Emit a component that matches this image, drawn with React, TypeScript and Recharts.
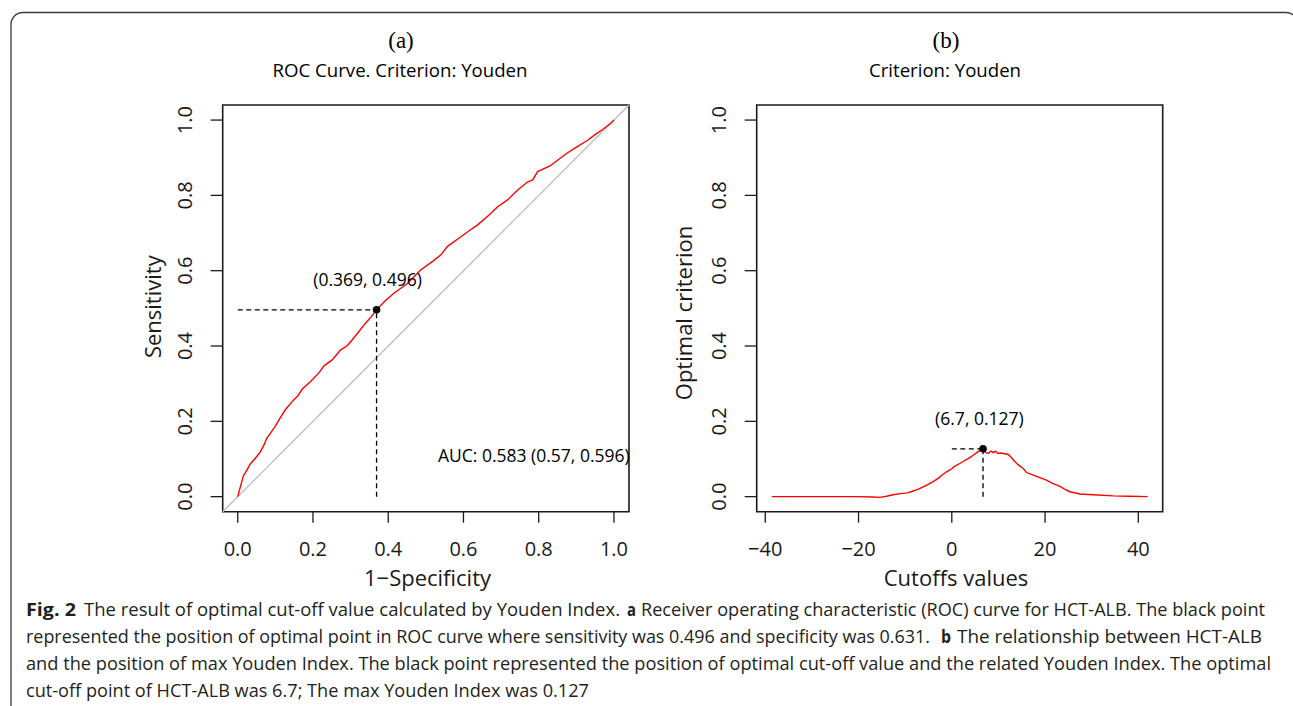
import React from "react";
import {
  LineChart,
  Line,
  XAxis,
  YAxis,
  ReferenceLine,
  ReferenceDot,
  ReferenceArea,
} from "recharts";

const FONT = '"Open Sans", "Noto Sans", sans-serif';
const INK = "#1a1a1a";

// (a) ROC curve: 1-specificity vs sensitivity
const rocFpr = [
  0, 0.008, 0.015, 0.025, 0.033, 0.045, 0.06, 0.07, 0.077, 0.088, 0.099, 0.112,
  0.126, 0.145, 0.16, 0.171, 0.193, 0.215, 0.23, 0.251, 0.273, 0.29, 0.304,
  0.32, 0.339, 0.355, 0.369, 0.39, 0.415, 0.451, 0.486, 0.52, 0.54, 0.557,
  0.593, 0.615, 0.637, 0.668, 0.691, 0.717, 0.745, 0.771, 0.784, 0.797, 0.83,
  0.851, 0.875, 0.895, 0.931, 0.948, 0.97, 0.993, 1,
];
const rocTpr = [
  0, 0.03, 0.055, 0.072, 0.086, 0.1, 0.119, 0.138, 0.155, 0.17, 0.186, 0.208,
  0.23, 0.253, 0.268, 0.285, 0.305, 0.328, 0.348, 0.363, 0.389, 0.4, 0.416,
  0.436, 0.46, 0.478, 0.496, 0.518, 0.54, 0.566, 0.602, 0.626, 0.642, 0.664,
  0.69, 0.706, 0.721, 0.748, 0.77, 0.788, 0.815, 0.836, 0.841, 0.863, 0.878,
  0.894, 0.912, 0.925, 0.947, 0.96, 0.975, 0.993, 1,
];
const rocTicks = [0, 0.2, 0.4, 0.6, 0.8, 1];
const bestRoc = { fpr: 0.369, tpr: 0.496 };
const aucPos = { fpr: 0.787, tpr: 0.111 };
const aucLabel = "AUC: 0.583 (0.57, 0.596)";

// (b) Youden index along the cutoffs
const cutoffs = [
  -38.6, -30, -25, -20.4, -17, -15.4, -14, -12.6, -11, -9.5, -8.3, -7.5, -6.8,
  -5.5, -4, -3, -2, -1.1, 0, 0.5, 1.7, 2.5, 3.5, 4.6, 5.5, 6, 6.7, 7.3, 7.8,
  8.4, 8.9, 9.4, 9.8, 10.5, 11.3, 12.1, 12.8, 13.2, 14.2, 15.3, 16, 17.5, 19,
  20.3, 21.5, 23.2, 24.3, 25.3, 27.5, 30.3, 34.6, 38, 42,
];
const youden = [
  0, 0, 0, 0, -0.001, -0.002, 0.001, 0.005, 0.008, 0.01, 0.015, 0.018, 0.022,
  0.03, 0.04, 0.048, 0.058, 0.066, 0.074, 0.08, 0.088, 0.094, 0.101, 0.11,
  0.118, 0.122, 0.127, 0.117, 0.115, 0.121, 0.117, 0.121, 0.115, 0.116, 0.114,
  0.112, 0.104, 0.097, 0.085, 0.075, 0.064, 0.057, 0.05, 0.044, 0.036, 0.027,
  0.019, 0.013, 0.007, 0.005, 0.002, 0.001, 0,
];
const cutoffTicks = [-40, -20, 0, 20, 40];
const critTicks = [0, 0.2, 0.4, 0.6, 0.8, 1];
const bestCut = { cut: 6.7, j: 0.127 };

const rocData = rocFpr.map((x, i) => ({ x, y: rocTpr[i] }));
const youdenData = cutoffs.map((x, i) => ({ x, y: youden[i] }));

const CHART_H = 600;
const BOX_TOP = 105;
const BOX_BOTTOM = 511.7;
const TICK_LABEL_Y = 548;

const fmt1 = (v: number) => v.toFixed(1);
const fmtInt = (v: number) => (v < 0 ? "\u2212" + Math.abs(v) : String(v));

function xTick(format: (v: number) => string) {
  return (p: any) => (
    <text
      x={p.x}
      y={TICK_LABEL_Y}
      textAnchor="middle"
      dominantBaseline="central"
      fontFamily={FONT}
      fontSize={20}
      fill={INK}
    >
      {format(p.payload.value)}
    </text>
  );
}

function yTick(labelX: number) {
  return (p: any) => (
    <text
      x={labelX}
      y={p.y}
      transform={`rotate(-90 ${labelX} ${p.y})`}
      textAnchor="middle"
      dominantBaseline="central"
      fontFamily={FONT}
      fontSize={20}
      fill={INK}
    >
      {fmt1(p.payload.value)}
    </text>
  );
}

function pointLabel(text: string, dx: number, dy: number) {
  return (p: any) => {
    const vb = p.viewBox || {};
    const cx = vb.x + (vb.width || 0) / 2;
    const cy = vb.y + (vb.height || 0) / 2;
    return (
      <text
        x={cx + dx}
        y={cy + dy}
        textAnchor="middle"
        dominantBaseline="central"
        fontFamily={FONT}
        fontSize={17.5}
        fill="#000"
      >
        {text}
      </text>
    );
  };
}

const dash = "5 3.5";

function RocPanel() {
  const W = 660;
  const boxLeft = 222.7;
  const boxRight = 629;
  const dom: [number, number] = [-0.04, 1.04];
  return (
    <LineChart
      width={W}
      height={CHART_H}
      margin={{ top: BOX_TOP, right: W - boxRight, bottom: CHART_H - BOX_BOTTOM - 60, left: boxLeft - 60 }}
    >
      <XAxis
        type="number"
        dataKey="x"
        domain={dom}
        ticks={rocTicks}
        allowDataOverflow
        interval={0}
        height={60}
        axisLine={false}
        tickSize={11}
        tickLine={{ stroke: INK, strokeWidth: 1.3 }}
        tick={xTick(fmt1)}
      />
      <YAxis
        type="number"
        domain={dom}
        ticks={rocTicks}
        allowDataOverflow
        interval={0}
        width={60}
        axisLine={false}
        tickSize={12}
        tickLine={{ stroke: INK, strokeWidth: 1.3 }}
        tick={yTick(boxLeft - 37.7)}
      />
      <ReferenceLine
        segment={[{ x: dom[0], y: dom[0] }, { x: dom[1], y: dom[1] }]}
        stroke="#bebebe"
        strokeWidth={1.4}
        ifOverflow="visible"
      />
      <Line
        data={rocData}
        dataKey="y"
        type="linear"
        stroke="#ff0000"
        strokeWidth={1.4}
        dot={false}
        isAnimationActive={false}
      />
      <ReferenceLine
        segment={[{ x: 0, y: bestRoc.tpr }, { x: bestRoc.fpr, y: bestRoc.tpr }]}
        stroke="#000"
        strokeWidth={1.3}
        strokeDasharray={dash}
        ifOverflow="visible"
      />
      <ReferenceLine
        segment={[{ x: bestRoc.fpr, y: 0 }, { x: bestRoc.fpr, y: bestRoc.tpr }]}
        stroke="#000"
        strokeWidth={1.3}
        strokeDasharray={dash}
        ifOverflow="visible"
      />
      <ReferenceDot
        x={bestRoc.fpr}
        y={bestRoc.tpr}
        r={3.8}
        fill="#000"
        stroke="none"
        ifOverflow="visible"
        label={{ content: pointLabel("(0.369, 0.496)", -9, -31) }}
      />
      <ReferenceDot
        x={aucPos.fpr}
        y={aucPos.tpr}
        r={0.01}
        fill="none"
        stroke="none"
        ifOverflow="visible"
        label={{ content: pointLabel(aucLabel, 0, 0) }}
      />
      <ReferenceArea
        x1={dom[0]}
        x2={dom[1]}
        y1={dom[0]}
        y2={dom[1]}
        fill="none"
        stroke={INK}
        strokeWidth={1.6}
        ifOverflow="visible"
      />
    </LineChart>
  );
}

function YoudenPanel() {
  const W = 633;
  const boxLeft = 96.7;
  const boxRight = 502.7;
  const xDom: [number, number] = [-41.84, 45.23];
  const yDom: [number, number] = [-0.04, 1.04];
  return (
    <LineChart
      width={W}
      height={CHART_H}
      margin={{ top: BOX_TOP, right: W - boxRight, bottom: CHART_H - BOX_BOTTOM - 60, left: boxLeft - 60 }}
    >
      <XAxis
        type="number"
        dataKey="x"
        domain={xDom}
        ticks={cutoffTicks}
        allowDataOverflow
        interval={0}
        height={60}
        axisLine={false}
        tickSize={11}
        tickLine={{ stroke: INK, strokeWidth: 1.3 }}
        tick={xTick(fmtInt)}
      />
      <YAxis
        type="number"
        domain={yDom}
        ticks={critTicks}
        allowDataOverflow
        interval={0}
        width={60}
        axisLine={false}
        tickSize={12}
        tickLine={{ stroke: INK, strokeWidth: 1.3 }}
        tick={yTick(boxLeft - 38.4)}
      />
      <Line
        data={youdenData}
        dataKey="y"
        type="linear"
        stroke="#ff0000"
        strokeWidth={1.4}
        dot={false}
        isAnimationActive={false}
      />
      <ReferenceLine
        segment={[{ x: 0, y: bestCut.j }, { x: bestCut.cut, y: bestCut.j }]}
        stroke="#000"
        strokeWidth={1.3}
        strokeDasharray={dash}
        ifOverflow="visible"
      />
      <ReferenceLine
        segment={[{ x: bestCut.cut, y: 0 }, { x: bestCut.cut, y: bestCut.j }]}
        stroke="#000"
        strokeWidth={1.3}
        strokeDasharray={dash}
        ifOverflow="visible"
      />
      <ReferenceDot
        x={bestCut.cut}
        y={bestCut.j}
        r={3.8}
        fill="#000"
        stroke="none"
        ifOverflow="visible"
        label={{ content: pointLabel("(6.7, 0.127)", -3.6, -31) }}
      />
      <ReferenceArea
        x1={xDom[0]}
        x2={xDom[1]}
        y1={yDom[0]}
        y2={yDom[1]}
        fill="none"
        stroke={INK}
        strokeWidth={1.6}
        ifOverflow="visible"
      />
    </LineChart>
  );
}

const captionColor = "#231f20";

// one caption run: [x start, width, bold, text]
type Run = [number, number, boolean, string];
const captionLines: { y: number; runs: Run[] }[] = [
  {
    y: 616,
    runs: [
      [26, 50, true, "Fig. 2"],
      [84, 536, false, "The result of optimal cut-off value calculated by Youden Index."],
      [627, 9, true, "a"],
      [641, 624, false, "Receiver operating characteristic (ROC) curve for HCT-ALB. The black point"],
    ],
  },
  {
    y: 643,
    runs: [
      [26, 904, false, "represented the position of optimal point in ROC curve where sensitivity was 0.496 and specificity was 0.631."],
      [941, 10, true, "b"],
      [957, 305, false, "The relationship between HCT-ALB"],
    ],
  },
  {
    y: 670,
    runs: [
      [26, 1245, false, "and the position of max Youden Index. The black point represented the position of optimal cut-off value and the related Youden Index. The optimal"],
    ],
  },
  {
    y: 697,
    runs: [[26, 563, false, "cut-off point of HCT-ALB was 6.7; The max Youden Index was 0.127"]],
  },
];

function Frame() {
  return (
    <svg width={1293} height={706} style={{ position: "absolute", left: 0, top: 0 }}>
      <rect x={11} y={12.5} width={1287} height={760} rx={12} fill="none" stroke="#3a3a3a" strokeWidth={1.3} />

      <text x={401} y={40} textAnchor="middle" dominantBaseline="central" fontFamily='"Liberation Serif", serif' fontSize={23} fill="#000">(a)</text>
      <text x={400} y={70} textAnchor="middle" dominantBaseline="central" fontFamily={FONT} fontSize={19} textLength={255} lengthAdjust="spacingAndGlyphs" fill="#000">ROC Curve. Criterion: Youden</text>
      <text x={946} y={40} textAnchor="middle" dominantBaseline="central" fontFamily='"Liberation Serif", serif' fontSize={23} fill="#000">(b)</text>
      <text x={945} y={70} textAnchor="middle" dominantBaseline="central" fontFamily={FONT} fontSize={19} textLength={152} lengthAdjust="spacingAndGlyphs" fill="#000">Criterion: Youden</text>

      <text x={427.5} y={577} textAnchor="middle" dominantBaseline="central" fontFamily={FONT} fontSize={22} fill={INK}>1{"\u2212"}Specificity</text>
      <text x={152.5} y={306.7} transform="rotate(-90 152.5 306.7)" textAnchor="middle" dominantBaseline="central" fontFamily={FONT} fontSize={22} fill={INK}>Sensitivity</text>
      <text x={956} y={577} textAnchor="middle" dominantBaseline="central" fontFamily={FONT} fontSize={22} fill={INK}>Cutoffs values</text>
      <text x={682.5} y={313} transform="rotate(-90 682.5 313)" textAnchor="middle" dominantBaseline="central" fontFamily={FONT} fontSize={22} fill={INK}>Optimal criterion</text>

      {captionLines.map((line) =>
        line.runs.map(([x, w, bold, t]) => (
          <text
            key={`${line.y}-${x}`}
            x={x}
            y={line.y}
            fontFamily={FONT}
            fontSize={18.5}
            fontWeight={bold ? 700 : 400}
            fill={captionColor}
            textLength={w}
            lengthAdjust="spacingAndGlyphs"
          >
            {t}
          </text>
        ))
      )}
    </svg>
  );
}

export default function App() {
  return (
    <div style={{ position: "absolute", left: 0, top: 0, width: 1293, height: 706, background: "#fff", overflow: "hidden" }}>
      <Frame />
      <div style={{ position: "absolute", left: 0, top: 0 }}>
        <RocPanel />
      </div>
      <div style={{ position: "absolute", left: 660, top: 0 }}>
        <YoudenPanel />
      </div>
    </div>
  );
}
